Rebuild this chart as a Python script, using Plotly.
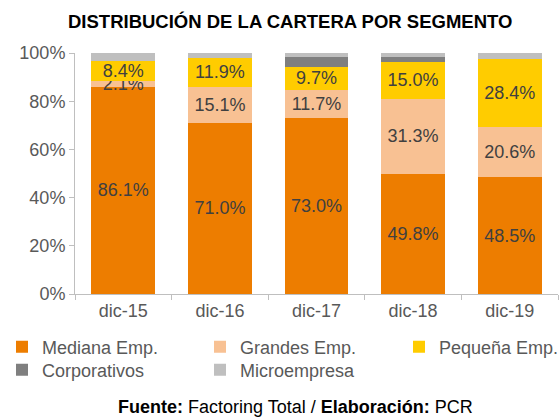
import plotly.graph_objects as go

categories = ["dic-15", "dic-16", "dic-17", "dic-18", "dic-19"]
mediana = [86.1, 71.0, 73.0, 49.8, 48.5]
grandes = [2.1, 15.1, 11.7, 31.3, 20.6]
pequena = [8.4, 11.9, 9.7, 15.0, 28.4]
corporativos = [0.0, 0.0, 3.9, 2.3, 0.0]
microempresa = [3.4, 2.0, 1.7, 1.6, 2.5]
y_ticks = [0, 20, 40, 60, 80, 100]
y_tick_labels = ["0%", "20%", "40%", "60%", "80%", "100%"]

series = [
    ("Mediana Emp.", mediana, "#ED7D00", True),
    ("Grandes Emp.", grandes, "#F8C193", True),
    ("Pequeña Emp.", pequena, "#FFCC00", True),
    ("Corporativos", corporativos, "#7F7F7F", False),
    ("Microempresa", microempresa, "#BFBFBF", False),
]
# legend text start (px) and row centre (px) for each series
legend_pos = [(42, 347), (240, 347), (439, 347), (42, 370), (240, 370)]

FONT = "Liberation Sans, Arial, sans-serif"
GREY = "#595959"
L, T, W, H = 75, 53, 483, 241
TEXT_OFF = 40

fig = go.Figure()
legends = {}
for i, (name, vals, color, labels) in enumerate(series):
    key = "legend" if i == 0 else f"legend{i + 1}"
    fig.add_trace(go.Bar(
        name=name, x=categories, y=vals, legend=key,
        marker=dict(color=color, line=dict(width=0)),
        text=[f"{v:.1f}%" for v in vals] if labels else None,
        texttemplate="%{text}" if labels else None,
        textposition="inside" if labels else "none",
        insidetextanchor="middle",
        textangle=0,
        textfont=dict(family=FONT, size=18, color="#404040"),
        hoverinfo="skip",
    ))
    tx, ty = legend_pos[i]
    legends[key] = dict(
        x=(tx - TEXT_OFF - L) / W, xanchor="left",
        y=-(ty - (T + H)) / H, yanchor="middle",
        font=dict(family=FONT, size=18, color=GREY),
        itemwidth=30, bgcolor="rgba(0,0,0,0)",
    )

fig.update_layout(
    barmode="stack",
    bargap=0.34,
    width=560, height=417,
    margin=dict(l=L, r=560 - L - W, t=T, b=417 - T - H, autoexpand=False),
    paper_bgcolor="white", plot_bgcolor="white",
    font=dict(family=FONT, color=GREY, size=18),
    uniformtext=dict(minsize=18, mode="show"),
    showlegend=True,
    annotations=[
        dict(text="<b>DISTRIBUCIÓN DE LA CARTERA POR SEGMENTO</b>",
             xref="paper", yref="paper", x=(290 - L) / W, y=1.0, yshift=32,
             xanchor="center", yanchor="middle", showarrow=False,
             font=dict(family=FONT, size=18.5, color="black")),
        dict(text="<b>Fuente:</b> Factoring Total / <b>Elaboración:</b> PCR",
             xref="paper", yref="paper", x=(295 - L) / W, y=0, yshift=-113,
             xanchor="center", yanchor="middle", showarrow=False,
             font=dict(family=FONT, size=18, color="black")),
    ],
    **legends,
)
fig.update_yaxes(
    range=[0, 100], tickmode="array", tickvals=y_ticks, ticktext=y_tick_labels,
    showgrid=False, showline=True, linecolor="#BFBFBF", linewidth=1,
    ticks="outside", ticklen=5, tickcolor="#BFBFBF",
    tickfont=dict(family=FONT, size=18, color=GREY), zeroline=False,
)
fig.update_xaxes(
    showgrid=False, showline=True, linecolor="#BFBFBF", linewidth=1,
    ticks="outside", ticklen=5, tickcolor="#BFBFBF", tickson="boundaries",
    tickfont=dict(family=FONT, size=18, color=GREY),
)

fig.write_html(
    "out.html",
    config={"displayModeBar": False},
    post_script="document.body.style.margin='0';document.body.style.overflow='hidden';",
)
